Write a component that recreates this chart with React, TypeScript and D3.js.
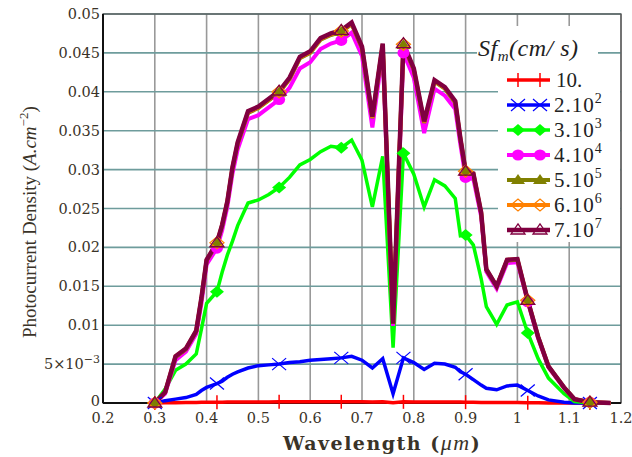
import React from "react";
import * as d3 from "d3";

// wavelength grid (um) shared by all curves
const wavelength = [0.30, 0.32, 0.34, 0.36, 0.38, 0.39, 0.40, 0.42, 0.43, 0.44, 0.45, 0.46,
  0.48, 0.50, 0.52, 0.54, 0.56, 0.58, 0.60, 0.62, 0.64, 0.66, 0.68, 0.70, 0.72, 0.74, 0.76,
  0.78, 0.80, 0.82, 0.84, 0.86, 0.88, 0.89, 0.90, 0.915, 0.93, 0.94, 0.96, 0.98, 1.00, 1.02,
  1.04, 1.06, 1.09, 1.11, 1.14, 1.18];

// photocurrent density (A/cm2) for each Sf value
const sf10 = [0, 0.00002, 0.00004, 0.00006, 0.00008, 0.00009, 0.0001, 0.00011, 0.00011, 0.00012, 0.00012, 0.00013,
  0.00014, 0.00014, 0.00014, 0.00015, 0.00015, 0.00015, 0.00015, 0.00016, 0.00016, 0.00016, 0.00016,
  0.00015, 0.00012, 0.00015, 0.00003, 0.00015, 0.00014, 0.00012, 0.00014, 0.00013, 0.00013,
  0.00012, 0.00011, 0.0001, 0.00008, 0.00006, 0.00005, 0.00006, 0.00006, 0.00004,
  0.00002, 0.00001, 0, 0, 0, 0];
const sf2e2 = [0, 0.0003, 0.0005, 0.0007, 0.0011, 0.0016, 0.0020, 0.0025, 0.0028, 0.0033, 0.0037, 0.0040,
  0.0045, 0.0048, 0.0049, 0.0050, 0.0052, 0.0053, 0.0055, 0.0056, 0.0057, 0.0058, 0.0060,
  0.0055, 0.0045, 0.0057, 0.0012, 0.0058, 0.0052, 0.0043, 0.0051, 0.0050, 0.0046,
  0.0040, 0.0037, 0.0030, 0.0023, 0.0019, 0.0017, 0.0022, 0.0023, 0.0016,
  0.0009, 0.0004, 0.0001, 0, 0, 0];
const sf3e3 = [0, 0.0018, 0.0042, 0.0050, 0.0063, 0.0095, 0.0128, 0.0143, 0.0168, 0.0190, 0.0208, 0.0228,
  0.0257, 0.0261, 0.0268, 0.0277, 0.0290, 0.0306, 0.0313, 0.0323, 0.0330, 0.0328, 0.0338,
  0.0312, 0.0252, 0.0317, 0.0071, 0.0321, 0.0294, 0.0252, 0.0287, 0.0279, 0.0263,
  0.0215, 0.0216, 0.0203, 0.0160, 0.0124, 0.0101, 0.0126, 0.0130, 0.0090,
  0.0057, 0.0032, 0.0012, 0.0002, 0, 0];
const sf4e4 = [0, 0.0012, 0.0055, 0.0066, 0.0089, 0.0128, 0.0178, 0.0199, 0.0222, 0.0252, 0.0295, 0.0326,
  0.0365, 0.0370, 0.0380, 0.0390, 0.0405, 0.0430, 0.0438, 0.0455, 0.0462, 0.0466, 0.0476,
  0.0446, 0.0354, 0.0452, 0.0099, 0.0450, 0.0418, 0.0347, 0.0404, 0.0395, 0.0378,
  0.0332, 0.0290, 0.0288, 0.0240, 0.0169, 0.0147, 0.0180, 0.0181, 0.0130,
  0.0083, 0.0046, 0.0019, 0.0005, 0.0001, 0];
const sf5e5 = [0, 0.0014, 0.0059, 0.0069, 0.0092, 0.0134, 0.0183, 0.0205, 0.0228, 0.0258, 0.0302, 0.0333,
  0.0373, 0.0379, 0.0389, 0.0399, 0.0416, 0.0443, 0.0450, 0.0467, 0.0473, 0.0477, 0.0487,
  0.0456, 0.0366, 0.0460, 0.0102, 0.0460, 0.0428, 0.0360, 0.0413, 0.0404, 0.0386,
  0.0339, 0.0297, 0.0294, 0.0244, 0.0171, 0.0150, 0.0183, 0.0184, 0.0132,
  0.0085, 0.0047, 0.0020, 0.0005, 0.0001, 0];
const sf6e6 = [0, 0.0014, 0.0060, 0.0070, 0.0093, 0.0135, 0.0184, 0.0206, 0.0229, 0.0259, 0.0303, 0.0334,
  0.0374, 0.0380, 0.0390, 0.0400, 0.0417, 0.0444, 0.0451, 0.0468, 0.0474, 0.0478, 0.0488,
  0.0457, 0.0367, 0.0461, 0.0102, 0.0461, 0.0429, 0.0361, 0.0414, 0.0405, 0.0387,
  0.0340, 0.0298, 0.0295, 0.0245, 0.0172, 0.0150, 0.0184, 0.0185, 0.0132,
  0.0085, 0.0047, 0.0020, 0.0005, 0.0001, 0];
const sf7e7 = [0, 0.0014, 0.0060, 0.0070, 0.0093, 0.0135, 0.0184, 0.0206, 0.0229, 0.0259, 0.0303, 0.0335,
  0.0375, 0.0381, 0.0391, 0.0401, 0.0418, 0.0445, 0.0452, 0.0469, 0.0475, 0.0479, 0.0489,
  0.0458, 0.0368, 0.0462, 0.0102, 0.0462, 0.0430, 0.0362, 0.0415, 0.0406, 0.0388,
  0.0340, 0.0298, 0.0295, 0.0245, 0.0172, 0.0150, 0.0184, 0.0185, 0.0132,
  0.0085, 0.0047, 0.0020, 0.0005, 0.0001, 0];

// wavelengths that carry a marker
const markerAt = [0.30, 0.42, 0.54, 0.66, 0.78, 0.90, 1.02, 1.14];

const legendBase = ["2", "3", "4", "5", "6", "7"];
const xTicks = [0.2, 0.3, 0.4, 0.5, 0.6, 0.7, 0.8, 0.9, 1.0, 1.1, 1.2];
const xTickLabels = ["0.2", "0.3", "0.4", "0.5", "0.6", "0.7", "0.8", "0.9", "1", "1.1", "1.2"];
const yTicks = [0, 0.005, 0.01, 0.015, 0.02, 0.025, 0.03, 0.035, 0.04, 0.045, 0.05];
const yTickLabels = ["0", "5e-3", "0.01", "0.015", "0.02", "0.025", "0.03", "0.035", "0.04", "0.045", "0.05"];

const series = [
  { name: "10", values: sf10, color: "#ff0000", width: 3.5, marker: "plus" },
  { name: "2", values: sf2e2, color: "#0000ff", width: 3.5, marker: "cross" },
  { name: "3", values: sf3e3, color: "#00ff00", width: 3.5, marker: "diamond" },
  { name: "4", values: sf4e4, color: "#ff00ff", width: 4, marker: "circle" },
  { name: "5", values: sf5e5, color: "#808000", width: 4, marker: "triangle" },
  { name: "6", values: sf6e6, color: "#ff8000", width: 4, marker: "odiamond" },
  { name: "7", values: sf7e7, color: "#800040", width: 4.5, marker: "otriangle" },
];

const x = d3.scaleLinear().domain([0.2, 1.2]).range([103, 621]);
const y = d3.scaleLinear().domain([0, 0.05]).range([403, 14]);

function Marker({ type, cx, cy, color }) {
  switch (type) {
    case "plus":
      return <g stroke={color} strokeWidth={1.5}>
        <line x1={cx} x2={cx} y1={cy - 7} y2={cy + 7} />
        <line x1={cx - 7} x2={cx + 7} y1={cy} y2={cy} />
      </g>;
    case "cross":
      return <g stroke={color} strokeWidth={1.2}>
        <line x1={cx - 7} x2={cx + 7} y1={cy - 6} y2={cy + 6} />
        <line x1={cx - 7} x2={cx + 7} y1={cy + 6} y2={cy - 6} />
      </g>;
    case "diamond":
      return <path d={`M${cx - 7},${cy}L${cx},${cy - 6}L${cx + 7},${cy}L${cx},${cy + 6}Z`} fill={color} />;
    case "odiamond":
      return <path d={`M${cx - 7},${cy}L${cx},${cy - 6}L${cx + 7},${cy}L${cx},${cy + 6}Z`} fill="none" stroke={color} strokeWidth={1.3} />;
    case "circle":
      return <ellipse cx={cx} cy={cy} rx={6} ry={5.5} fill={color} />;
    case "triangle":
      return <path d={`M${cx - 7},${cy + 4}L${cx},${cy - 6}L${cx + 7},${cy + 4}Z`} fill={color} />;
    case "otriangle":
      return <path d={`M${cx - 7},${cy + 4}L${cx},${cy - 6}L${cx + 7},${cy + 4}Z`} fill="none" stroke={color} strokeWidth={1.3} />;
    default:
      return null;
  }
}

export default function App() {
  const line = d3.line<number>()
    .x((d, i) => x(wavelength[i]))
    .y((d) => y(d));

  const tickFont = "DejaVu Serif";
  const legendRows = [80, 105, 130, 155, 180, 205, 230];

  return (
    <svg width={632} height={457} style={{ position: "absolute", left: 0, top: 0, background: "#fff" }}
      fontFamily="Liberation Serif">
      {/* grid */}
      {xTicks.slice(1).map((t) => (
        <line key={"gx" + t} x1={x(t)} x2={x(t)} y1={y(0.05)} y2={y(0)} stroke="#999" strokeWidth={1.6} />
      ))}
      {yTicks.slice(1).map((t) => (
        <line key={"gy" + t} x1={x(0.2)} x2={x(1.2)} y1={y(t)} y2={y(t)} stroke="#6e9c9c" strokeWidth={1.6} />
      ))}
      {/* frame */}
      <rect x={x(0.2)} y={y(0.05)} width={x(1.2) - x(0.2)} height={y(0) - y(0.05)} fill="none" stroke="#555" strokeWidth={1.3} />
      <line x1={x(0.2)} x2={x(0.2)} y1={y(0.05)} y2={y(0)} stroke="#111" strokeWidth={2} />
      <line x1={x(0.2)} x2={x(1.2)} y1={y(0)} y2={y(0)} stroke="#111" strokeWidth={2} />

      {/* curves */}
      {series.map((s) => (
        <path key={"l" + s.name} d={line(s.values) || ""} fill="none" stroke={s.color}
          strokeWidth={s.width} strokeLinejoin="miter" />
      ))}
      {series.map((s) => (
        <g key={"m" + s.name}>
          {wavelength.map((w, i) => markerAt.includes(w)
            ? <Marker key={w} type={s.marker} cx={x(w)} cy={y(s.values[i])} color={s.color} />
            : null)}
        </g>
      ))}

      {/* legend */}
      <rect x={477} y={26} width={121} height={42} fill="#fff" />
      <rect x={498} y={68} width={122} height={174} fill="#fff" />
      <text x={478} y={56} fontSize={24} fontStyle="italic" fill="#222" letterSpacing={0.5}>
        Sf<tspan fontSize={15} dy={5}>m</tspan><tspan dy={-5}>(cm/ s)</tspan>
      </text>
      {series.map((s, i) => {
        const ry = legendRows[i];
        return (
          <g key={"lg" + s.name}>
            <line x1={507} x2={550} y1={ry} y2={ry} stroke={s.color} strokeWidth={s.width} />
            <Marker type={s.marker} cx={518} cy={ry} color={s.color} />
            <Marker type={s.marker} cx={540} cy={ry} color={s.color} />
            {i === 0
              ? <text x={556} y={ry + 7} fontSize={21} fill="#222">10.</text>
              : <text x={554} y={ry + 7} fontSize={21} fill="#222" letterSpacing={1}>
                {legendBase[i - 1]}.10<tspan fontSize={14} dy={-9}>{legendBase[i - 1]}</tspan>
              </text>}
          </g>
        );
      })}

      {/* tick labels */}
      {xTicks.map((t, i) => (
        <text key={"tx" + t} x={x(t)} y={423} textAnchor="middle" fontSize={14.5}
          fontFamily={tickFont} fill="#3a3328">{xTickLabels[i]}</text>
      ))}
      {yTicks.map((t, i) => (
        <text key={"ty" + t} x={100} y={y(t) + (i === 0 ? 3 : 5)} textAnchor="end" fontSize={14.5}
          fontFamily={tickFont} fill="#3a3328">
          {yTickLabels[i] === "5e-3"
            ? <>5×10<tspan fontSize={11} dy={-6}>−3</tspan></>
            : yTickLabels[i]}
        </text>
      ))}

      {/* axis titles */}
      <text x={283} y={450} fontSize={19} fontWeight="bold" fontFamily="DejaVu Serif" fill="#3a3328" letterSpacing={1.5}>
        Wavelength (<tspan fontStyle="italic" fontFamily="Liberation Serif" fontWeight="normal" fontSize={22}>μm</tspan>)
      </text>
      <text transform="translate(36,338) rotate(-90)" fontSize={19} fill="#3a3328">
        Photocurrent Density (<tspan fontStyle="italic">A.cm</tspan><tspan fontSize={13} dy={-8}>−2</tspan><tspan dy={8}>)</tspan>
      </text>
    </svg>
  );
}
